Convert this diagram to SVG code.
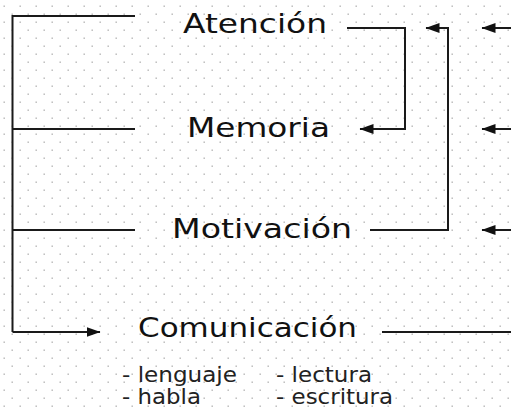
<svg xmlns="http://www.w3.org/2000/svg" width="511" height="409" viewBox="0 0 511 409">
  <style>
    .lbl { font-family: "DejaVu Sans", Verdana, "Liberation Sans", sans-serif; font-size: 27px; fill: #111; }
    .sub { font-family: "DejaVu Sans", Verdana, "Liberation Sans", sans-serif; font-size: 21px; fill: #222; }
    .ln { fill: none; stroke: #1a1a1a; stroke-width: 2; }
    .arr { marker-end: url(#ah); }
  </style>
  <defs>
    <pattern id="dots" x="0" y="0" width="16" height="16" patternUnits="userSpaceOnUse">
      <rect x="3.5" y="5.5" width="1.4" height="1.4" fill="#b4b4b4"/>
      <rect x="11.5" y="13.5" width="1.4" height="1.4" fill="#b4b4b4"/>
    </pattern>
    <marker id="ah" markerUnits="userSpaceOnUse" markerWidth="15" markerHeight="11" refX="13.5" refY="5" orient="auto">
      <path d="M0,0 L14,5 L0,10 Z" fill="#111"/>
    </marker>
  </defs>
  <rect width="511" height="409" fill="#fff"/>
  <rect width="511" height="409" fill="url(#dots)"/>

  <g id="connectors">
    <path class="ln" d="M135,16 H12.5 V332"/>
    <path class="ln" d="M12.5,129 H135"/>
    <path class="ln" d="M12.5,230 H135"/>
    <path class="ln arr" d="M12.5,332 H100"/>
    <path class="ln arr" d="M347,28 H405 V129 H360"/>
    <path class="ln arr" d="M370,230 H448 V28 H426"/>
    <path class="ln arr" d="M511,28 H482"/>
    <path class="ln arr" d="M511,129 H482"/>
    <path class="ln arr" d="M511,230 H482"/>
    <path class="ln" d="M382,332 H511"/>
  </g>

  <g id="atencion">
    <text class="lbl" x="183" y="33" textLength="144" lengthAdjust="spacingAndGlyphs">Atención</text>
  </g>
  <g id="memoria">
    <text class="lbl" x="187" y="137" textLength="143" lengthAdjust="spacingAndGlyphs">Memoria</text>
  </g>
  <g id="motivacion">
    <text class="lbl" x="172" y="238" textLength="180" lengthAdjust="spacingAndGlyphs">Motivación</text>
  </g>
  <g id="comunicacion">
    <text class="lbl" x="138" y="337" textLength="219" lengthAdjust="spacingAndGlyphs">Comunicación</text>
    <text class="sub" x="122" y="382" textLength="115" lengthAdjust="spacingAndGlyphs">- lenguaje</text>
    <text class="sub" x="122" y="404" textLength="79" lengthAdjust="spacingAndGlyphs">- habla</text>
    <text class="sub" x="276" y="382" textLength="96" lengthAdjust="spacingAndGlyphs">- lectura</text>
    <text class="sub" x="276" y="404" textLength="117" lengthAdjust="spacingAndGlyphs">- escritura</text>
  </g>
</svg>
